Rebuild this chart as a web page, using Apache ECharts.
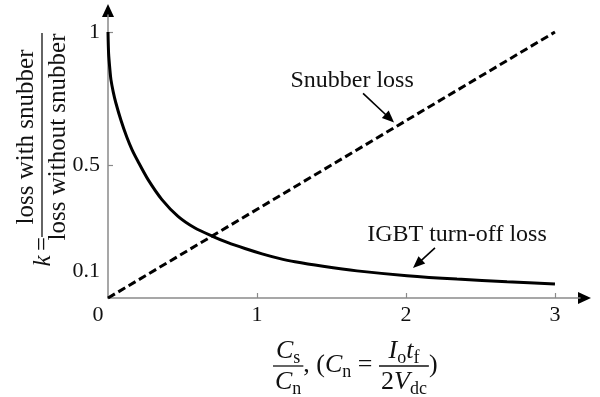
<!DOCTYPE html>
<html>
<head>
<meta charset="utf-8">
<script src="https://cdn.jsdelivr.net/npm/echarts@6/dist/echarts.min.js"></script>
<style>
  html, body { margin: 0; padding: 0; background: #ffffff; }
  #chart { width: 600px; height: 397px; }
</style>
</head>
<body>
<div id="chart"></div>
<script>
// Capacitance ratio Cs/Cn and normalised IGBT turn-off loss k
const ratio = [0, 0.004, 0.013, 0.02, 0.035, 0.052, 0.087, 0.126, 0.161, 0.2, 0.268, 0.362, 0.47, 0.584, 0.698, 0.805, 0.919, 1.034, 1.141, 1.255, 1.443, 1.671, 2.007, 2.342, 2.678, 3.0];
const igbtLoss = [1, 0.92, 0.857, 0.82, 0.775, 0.735, 0.668, 0.605, 0.558, 0.515, 0.446, 0.37, 0.307, 0.263, 0.233, 0.208, 0.186, 0.166, 0.15, 0.136, 0.119, 0.102, 0.084, 0.071, 0.061, 0.053];
// Snubber loss grows linearly with the ratio
const snubberRatio = [0, 3];
const snubberLoss = [0, 1];
// Axis tick labels
const xTickValues = [0, 1, 2, 3];
const yTickValues = [0.1, 0.5, 1];
const yTickMarks = [0.5, 1];
// Annotation texts
const snubberLabel = 'Snubber loss';
const igbtLabel = 'IGBT turn-off loss';

const SERIF = '"Liberation Serif", "DejaVu Serif", serif';
const AXIS_GREY = '#8a8a8a';
const X_MAX = 3.168;
const Y_MAX = 1.064;

const chart = echarts.init(document.getElementById('chart'), null, { renderer: 'canvas' });

const pair = (xs, ys) => xs.map((x, i) => [x, ys[i]]);

chart.setOption({
  animation: false,
  backgroundColor: '#ffffff',
  grid: { left: 108, right: 20, top: 15, bottom: 99, containLabel: false },
  xAxis: {
    type: 'value', min: 0, max: X_MAX,
    splitLine: { show: false },
    axisLine: { show: true, onZero: false, lineStyle: { color: AXIS_GREY, width: 1.5 } },
    axisTick: { show: true, inside: true, length: 5, customValues: xTickValues.slice(1), lineStyle: { color: AXIS_GREY, width: 1.2 } },
    axisLabel: {
      customValues: xTickValues, margin: 6,
      fontFamily: SERIF, fontSize: 22, color: '#111',
      formatter: v => (v === 0 ? '{z|0}' : String(v)),
      rich: { z: { fontFamily: SERIF, fontSize: 22, color: '#111', padding: [0, 20, 0, 0] } }
    }
  },
  yAxis: {
    type: 'value', min: 0, max: Y_MAX,
    splitLine: { show: false },
    axisLine: { show: true, onZero: false, lineStyle: { color: AXIS_GREY, width: 1.5 } },
    axisTick: { show: true, inside: true, length: 5, customValues: yTickMarks, lineStyle: { color: AXIS_GREY, width: 1.2 } },
    axisLabel: {
      customValues: yTickValues, margin: 8,
      fontFamily: SERIF, fontSize: 22, color: '#111',
      formatter: v => String(v)
    }
  },
  series: [
    {
      name: igbtLabel, type: 'line', data: pair(ratio, igbtLoss),
      showSymbol: false, smooth: 0.25, clip: false,
      lineStyle: { color: '#000', width: 3 }
    },
    {
      name: snubberLabel, type: 'line', data: pair(snubberRatio, snubberLoss),
      showSymbol: false, clip: false,
      lineStyle: { color: '#000', width: 3, type: [8, 4] }
    }
  ]
});

// ---- decorations: axis arrows, annotations and the axis titles ----
const toPx = (x, y) => chart.convertToPixel({ gridIndex: 0 }, [x, y]);

function arrowHead(tip, dir, len, half, color) {
  const n = Math.hypot(dir[0], dir[1]);
  const ux = dir[0] / n, uy = dir[1] / n;
  const bx = tip[0] - ux * len, by = tip[1] - uy * len;
  return {
    type: 'polygon',
    shape: { points: [tip, [bx - uy * half, by + ux * half], [bx + uy * half, by - ux * half]] },
    style: { fill: color }, silent: true
  };
}

function pointer(from, tip) {
  const dir = [tip[0] - from[0], tip[1] - from[1]];
  const n = Math.hypot(dir[0], dir[1]);
  const stop = [tip[0] - dir[0] / n * 8, tip[1] - dir[1] / n * 8];
  return [
    { type: 'line', shape: { x1: from[0], y1: from[1], x2: stop[0], y2: stop[1] }, style: { stroke: '#000', lineWidth: 1.6 }, silent: true },
    arrowHead(tip, dir, 12, 5, '#000')
  ];
}

const measureCtx = document.createElement('canvas').getContext('2d');
function textWidth(t, size, italic) {
  measureCtx.font = (italic ? 'italic ' : '') + size + 'px ' + SERIF;
  return measureCtx.measureText(t).width;
}

// Lays out a row of math pieces (main glyphs and subscripts) from a left x
const MAIN = 26, SUB = 18;
function mathRow(parts, left, midY) {
  const els = [];
  let x = left;
  parts.forEach(p => {
    const size = p.sub ? SUB : MAIN;
    els.push({
      type: 'text', x: x, y: midY + (p.sub ? 7 : 0), silent: true,
      style: {
        text: p.t, fill: '#111', align: 'left', verticalAlign: 'middle',
        font: (p.italic ? 'italic ' : '') + size + 'px ' + SERIF
      }
    });
    x += textWidth(p.t, size, p.italic);
  });
  return { els: els, width: x - left };
}
function rowWidth(parts) {
  return parts.reduce((s, p) => s + textWidth(p.t, p.sub ? SUB : MAIN, p.italic), 0);
}
function fraction(num, den, left, barY) {
  const w = Math.max(rowWidth(num), rowWidth(den)) + 4;
  const cx = left + w / 2;
  const a = mathRow(num, cx - rowWidth(num) / 2, barY - 15);
  const b = mathRow(den, cx - rowWidth(den) / 2, barY + 16);
  const bar = { type: 'line', shape: { x1: left, y1: barY, x2: left + w, y2: barY }, style: { stroke: '#111', lineWidth: 1.3 }, silent: true };
  return { els: a.els.concat(b.els, [bar]), width: w };
}

function decorate() {
  const els = [];
  const xEnd = toPx(X_MAX, 0);
  const yEnd = toPx(0, Y_MAX);
  els.push(arrowHead([xEnd[0] + 11, xEnd[1]], [1, 0], 13, 6, '#000'));
  els.push(arrowHead([yEnd[0], yEnd[1] - 11], [0, -1], 13, 6, '#000'));

  // Snubber loss annotation
  const sTip = toPx(1.92, 0.66);
  els.push({ type: 'text', x: sTip[0] - 42, y: sTip[1] - 42, silent: true,
    style: { text: snubberLabel, font: '24px ' + SERIF, fill: '#111', align: 'center', verticalAlign: 'middle' } });
  els.push(...pointer([sTip[0] - 31, sTip[1] - 29], sTip));

  // IGBT turn-off loss annotation
  const iTip = toPx(2.047, 0.113);
  els.push({ type: 'text', x: iTip[0] + 44, y: iTip[1] - 33, silent: true,
    style: { text: igbtLabel, font: '24px ' + SERIF, fill: '#111', align: 'center', verticalAlign: 'middle' } });
  els.push(...pointer([iTip[0] + 22, iTip[1] - 20], iTip));

  // Horizontal axis title: Cs/Cn, (Cn = Io tf / 2Vdc)
  const barY = 366;
  let x = 273;
  const f1 = fraction(
    [{ t: 'C', italic: true }, { t: 's', sub: true }],
    [{ t: 'C', italic: true }, { t: 'n', sub: true }], x, barY);
  els.push(...f1.els); x += f1.width;
  const mid = mathRow([{ t: ', (' }, { t: 'C', italic: true }, { t: 'n', sub: true }, { t: ' = ' }], x, barY - 1);
  els.push(...mid.els); x += mid.width;
  const f2 = fraction(
    [{ t: 'I', italic: true }, { t: 'o', sub: true }, { t: 't', italic: true }, { t: 'f', sub: true }],
    [{ t: '2' }, { t: 'V', italic: true }, { t: 'dc', sub: true }], x, barY);
  els.push(...f2.els); x += f2.width;
  els.push(...mathRow([{ t: ')' }], x, barY - 1).els);

  // Vertical axis title: k = loss with snubber / loss without snubber
  const TITLE = 25;
  const txt = (t, lx, ly, italic) => ({
    type: 'text', x: lx, y: ly,
    style: { text: t, font: (italic ? 'italic ' : '') + TITLE + 'px ' + SERIF, fill: '#111', align: 'center', verticalAlign: 'middle' }
  });
  els.push({
    type: 'group', x: 42, y: 137, rotation: Math.PI / 2, silent: true,
    children: [
      txt('loss with snubber', 0, -16),
      txt('loss without snubber', 0, 16),
      { type: 'line', shape: { x1: -100, y1: 0, x2: 104, y2: 0 }, style: { stroke: '#111', lineWidth: 1.3 } },
      txt('=', -107, 1),
      txt('k', -124, 1, true)
    ]
  });

  chart.setOption({ graphic: { elements: els } });
}
decorate();
</script>
</body>
</html>
